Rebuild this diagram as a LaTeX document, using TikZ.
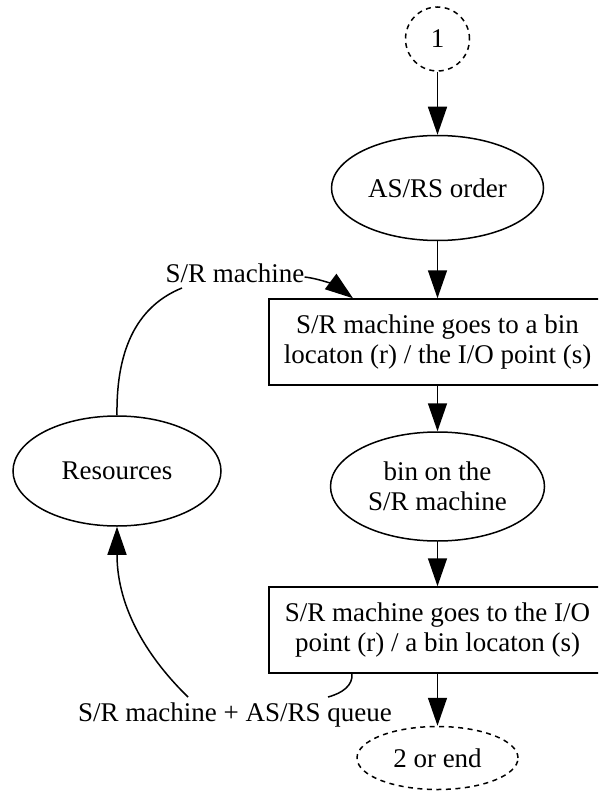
\documentclass[tikz,border=0pt]{standalone}
\usepackage{fontspec}
\setmainfont{Liberation Serif}
\usetikzlibrary{arrows.meta,shapes.geometric}
\begin{document}
\begin{tikzpicture}[x=1pt,y=-1pt,
  every node/.style={font=\fontsize{27}{30}\selectfont, align=center, inner sep=0pt},
  flow/.style={line width=1.5pt, -{Triangle[length=28pt,width=19pt]}},
  plain/.style={line width=1.5pt},
  oval/.style={draw, ellipse, line width=1.5pt},
  stepbox/.style={draw, rectangle, line width=1.5pt, minimum width=337pt, minimum height=86pt},
  ghost/.style={dash pattern=on 5pt off 4.5pt}]

\clip (0,0) rectangle (598,791);

% main flow
\node[oval, ghost, minimum width=64pt, minimum height=64pt] (n1) at (437.5,39) {1};
\node[oval, minimum width=212pt, minimum height=105pt] (order) at (437.5,188) {AS/RS order};
\node[stepbox] (box1) at (437.5,342) {S/R machine goes to a bin\\locaton (r) / the I/O point (s)};
\node[oval, minimum width=214pt, minimum height=109pt] (bin) at (437.5,486.5) {bin on the\\S/R machine};
\node[stepbox] (box2) at (437.5,630) {S/R machine goes to the I/O\\point (r) / a bin locaton (s)};
\node[oval, ghost, minimum width=161pt, minimum height=63pt] (end) at (437.5,758) {2 or end};

% resource pool
\node[oval, minimum width=208pt, minimum height=110pt] (res) at (117,471) {Resources};

% edge labels
\node (lab1) at (235,273) {S/R machine};
\node (lab2) at (235,715) {S/R machine + AS/RS queue};

\draw[flow] (n1) -- (order);
\draw[flow] (order) -- (box1);
\draw[flow] (box1) -- (bin);
\draw[flow] (bin) -- (box2);
\draw[flow] (box2) -- (end);

% resources seize the S/R machine
\coordinate (c1) at (182,288);
\draw[plain] (res.north) .. controls (116,345) and (140,305) .. (c1);
\draw[flow] ([yshift=-4pt]lab1.east) .. controls (322,279) and (338,287) .. ([xshift=-84.5pt]box1.north);

% resources released
\coordinate (c2) at (328,697);
\coordinate (c3) at (188,697);
\draw[plain] ([xshift=-85.5pt]box2.south) .. controls (353,685) and (343,693) .. (c2);
\draw[flow] (c3) .. controls (150,660) and (117,610) .. (res.south);
\end{tikzpicture}
\end{document}
